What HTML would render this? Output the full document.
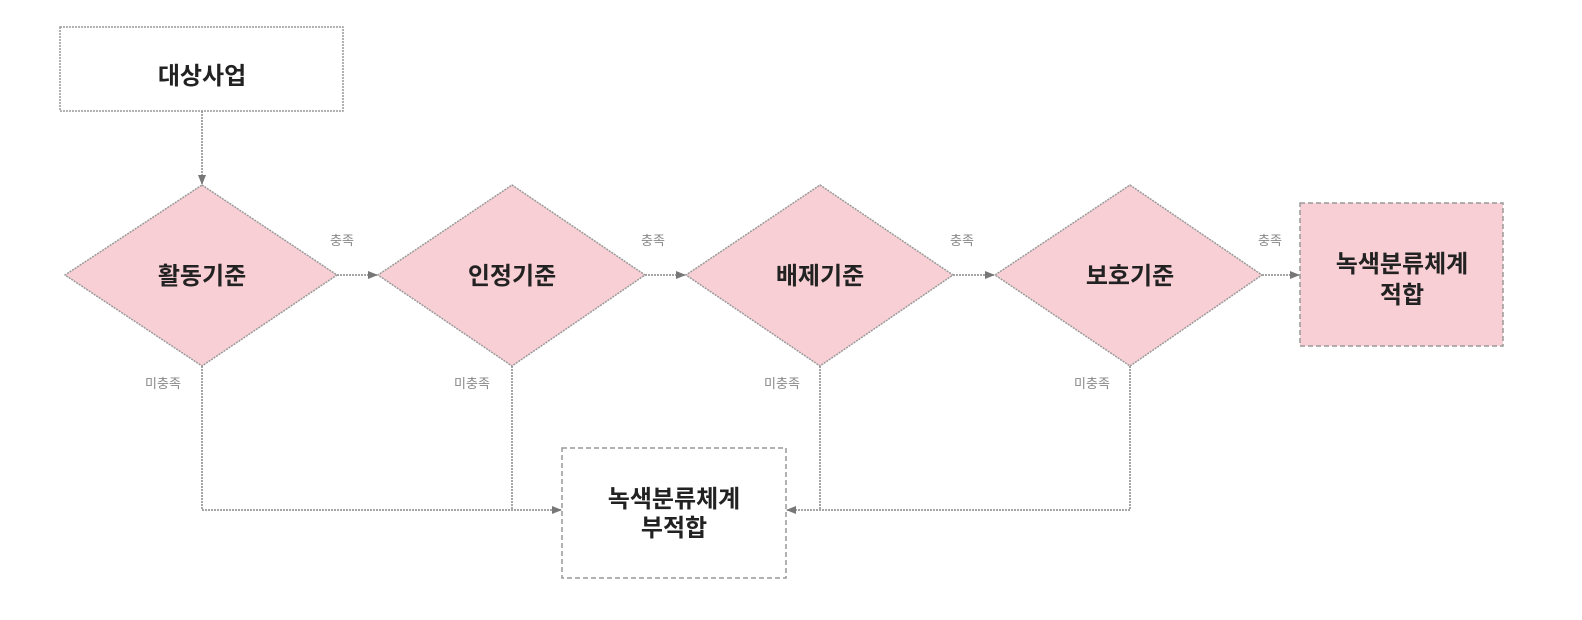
<!DOCTYPE html>
<html><head><meta charset="utf-8"><style>
html,body{margin:0;padding:0;background:#fff;}
text{font-family:"Liberation Sans","Noto Sans CJK KR",sans-serif;}
</style></head><body>
<svg width="1582" height="615" xmlns="http://www.w3.org/2000/svg">
<defs>
<marker id="a" markerWidth="10" markerHeight="10" refX="9" refY="5" orient="auto" markerUnits="userSpaceOnUse">
<path d="M0,1 L10,5 L0,9 Z" fill="#777"/></marker>
</defs>
<g stroke="#999" stroke-width="1.5" stroke-dasharray="2,1" fill="none">
<rect x="60" y="27" width="283" height="84" fill="#fff"/>
<rect x="562" y="448" width="224" height="130" fill="#fff" stroke-dasharray="5,3"/>
<rect x="1300" y="203" width="203" height="143" fill="#f8cfd4" stroke-dasharray="5,3"/>
<polygon points="202,185 337,275 202,366 65,275" fill="#f8cfd4"/>
<polygon points="512,185 645,275 512,366 378,275" fill="#f8cfd4"/>
<polygon points="820,185 953,275 820,366 686,275" fill="#f8cfd4"/>
<polygon points="1130,185 1262,275 1130,366 995,275" fill="#f8cfd4"/>
<g stroke="#888">
<line x1="202" y1="111" x2="202" y2="184" marker-end="url(#a)"/>
<line x1="337" y1="275" x2="377" y2="275" marker-end="url(#a)"/>
<line x1="645" y1="275" x2="685" y2="275" marker-end="url(#a)"/>
<line x1="953" y1="275" x2="994" y2="275" marker-end="url(#a)"/>
<line x1="1262" y1="275" x2="1299" y2="275" marker-end="url(#a)"/>
<polyline points="202,366 202,510 561,510" marker-end="url(#a)"/>
<line x1="512" y1="366" x2="512" y2="510"/>
<polyline points="1130,366 1130,510 787,510" marker-end="url(#a)"/>
<line x1="820" y1="366" x2="820" y2="510"/>
</g>
</g>
<g font-weight="bold" font-size="24" fill="#222" text-anchor="middle">
<text x="202" y="84">대상사업</text>
<text x="202" y="284">활동기준</text>
<text x="512" y="284">인정기준</text>
<text x="820" y="284">배제기준</text>
<text x="1130" y="284">보호기준</text>
<text x="1402" y="272">녹색분류체계</text>
<text x="1402" y="303">적합</text>
<text x="674" y="507">녹색분류체계</text>
<text x="674" y="536">부적합</text>
</g>
<g font-size="13" fill="#888" text-anchor="middle">
<text x="342" y="245">충족</text>
<text x="653" y="245">충족</text>
<text x="962" y="245">충족</text>
<text x="1270" y="245">충족</text>
<text x="163" y="388">미충족</text>
<text x="472" y="388">미충족</text>
<text x="782" y="388">미충족</text>
<text x="1092" y="388">미충족</text>
</g>
</svg>
</body></html>
